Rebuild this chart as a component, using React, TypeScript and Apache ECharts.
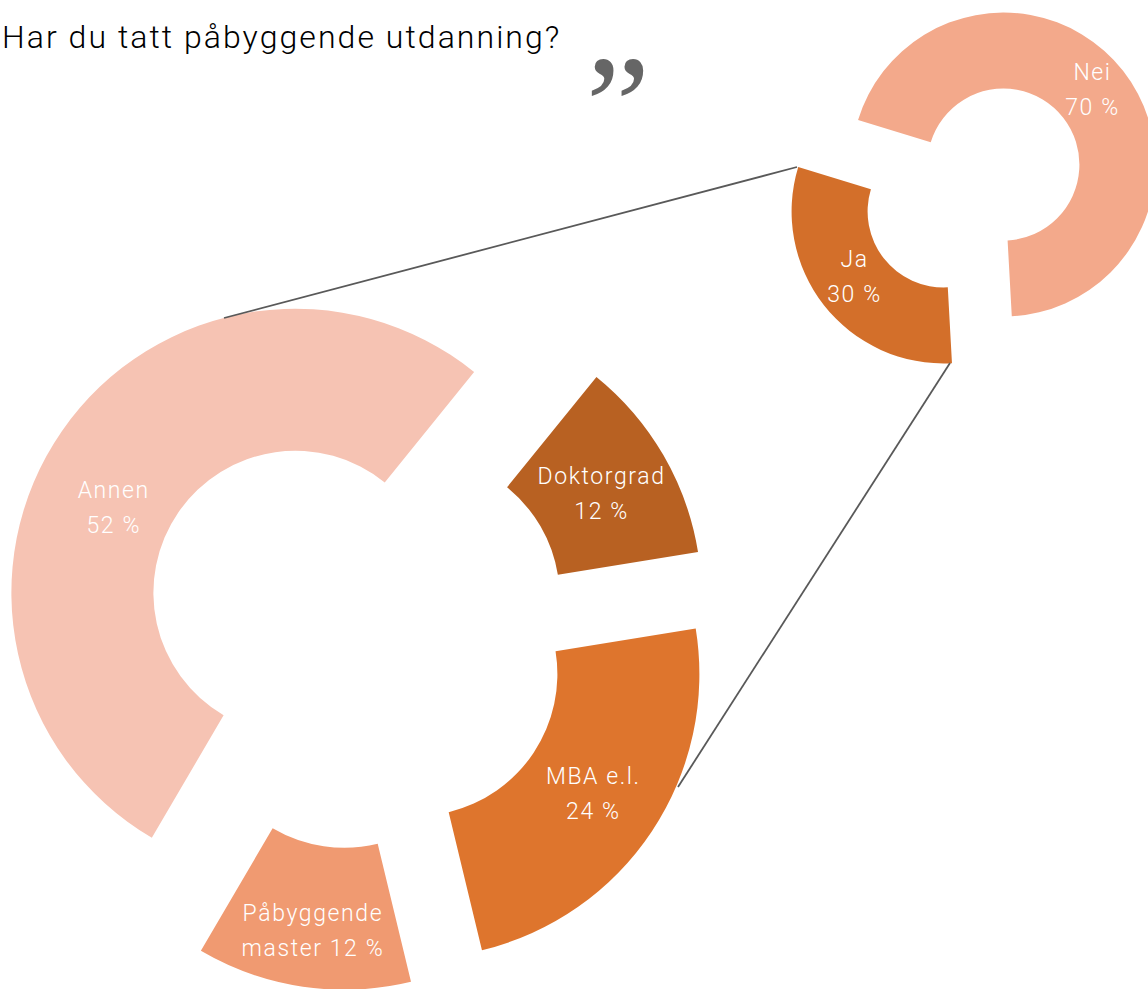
import React, { useEffect, useRef } from "react";
import * as echarts from "echarts";

const titleText = "Har du tatt påbyggende utdanning?";
const quoteMark = "”";

const mainNames = ["Doktorgrad", "MBA e.l.", "Påbyggende master", "Annen"];
const mainValues = [11.6, 23.8, 12.2, 52.4];
const mainLabels = ["Doktorgrad\n12 %", "MBA e.l.\n24 %", "Påbyggende\nmaster 12 %", "Annen\n52 %"];
const mainColors = ["#B86122", "#DE752D", "#F09A71", "#F6C3B3"];
const mainLabelOffsets = [[-3, 5], [-2, 0], [0, 12], [-4, 38]];

const sideNames = ["Nei", "Ja"];
const sideValues = [69.4, 30.6];
const sideLabels = ["Nei\n70 %", "Ja\n30 %"];
const sideColors = ["#F3A98B", "#D36F2A"];
const sideLabelOffsets = [[-3, -2], [3, -7]];

const labelStyle = {
  show: true,
  position: "inside" as const,
  color: "#FFFFFF",
  fontFamily: "Roboto",
  fontWeight: 300,
  fontSize: 23,
  lineHeight: 35,
  align: "center" as const,
};

function buildData(names: string[], values: number[], labels: string[], colors: string[]) {
  return names.map((name, i) => ({
    name,
    value: values[i],
    selected: true,
    itemStyle: { color: colors[i] },
    select: { itemStyle: { color: colors[i] } },
    label: { ...labelStyle, formatter: labels[i] },
  }));
}

export default function App() {
  const ref = useRef<HTMLDivElement>(null);
  useEffect(() => {
    document.body.style.margin = "0";
    const style = document.createElement("style");
    style.textContent =
      'svg text { letter-spacing: 1.6px; } svg text[style*="32px"] { letter-spacing: 2.05px; } svg text[style*="145px"] { letter-spacing: 0; }';
    document.head.appendChild(style);
    const chart = echarts.init(ref.current!, undefined, { renderer: "svg" });
    const pieBase = {
      type: "pie" as const,
      clockwise: true,
      selectedMode: "multiple" as const,
      avoidLabelOverlap: false,
      labelLine: { show: false },
      emphasis: { disabled: true },
      silent: true,
    };
    chart.setOption({
      animation: false,
      backgroundColor: "#FFFFFF",
      title: {
        text: titleText,
        left: -3,
        top: 16,
        textStyle: { fontFamily: "Roboto", fontWeight: 300, fontSize: 32, color: "#000000" },
      },
      series: [
        {
          ...pieBase,
          name: "Påbyggende utdanning",
          center: [355, 634],
          radius: [142, 284],
          startAngle: 51,
          selectedOffset: 72.5,
          labelLayout: (p: any) => ({ dx: mainLabelOffsets[p.dataIndex][0], dy: mainLabelOffsets[p.dataIndex][1] }),
          data: buildData(mainNames, mainValues, mainLabels, mainColors),
        },
        {
          ...pieBase,
          name: "Har du tatt påbyggende utdanning",
          center: [973.5, 188],
          radius: [76, 152],
          startAngle: 163,
          selectedOffset: 38,
          labelLayout: (p: any) => ({ dx: sideLabelOffsets[p.dataIndex][0], dy: sideLabelOffsets[p.dataIndex][1] }),
          data: buildData(sideNames, sideValues, sideLabels, sideColors),
        },
      ],
      graphic: [
        { type: "line", shape: { x1: 224, y1: 318, x2: 797, y2: 167 }, style: { stroke: "#595959", lineWidth: 1.8 }, z: 10 },
        { type: "line", shape: { x1: 678, y1: 787, x2: 950, y2: 363 }, style: { stroke: "#595959", lineWidth: 1.8 }, z: 10 },
        {
          type: "text",
          x: 618,
          y: 33,
          style: { text: quoteMark, fill: "#666666", font: "145px 'Liberation Serif'", textAlign: "center" },
          z: 10,
        },
      ],
    });
    return () => {
      chart.dispose();
      style.remove();
    };
  }, []);
  return <div ref={ref} style={{ width: 1148, height: 989 }} />;
}
